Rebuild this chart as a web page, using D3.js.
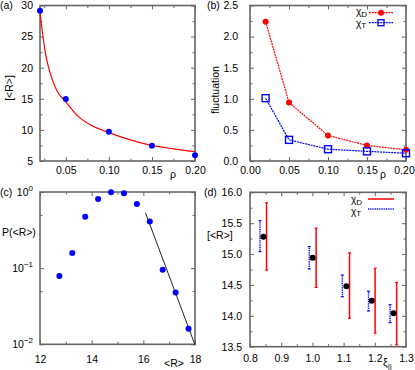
<!DOCTYPE html>
<html lang="en">
<head>
<meta charset="utf-8">
<title>Four panels</title>
<style>
  body { margin: 0; background: #fff; }
  text { font-family: "Liberation Sans", Arial, sans-serif; font-size: 10.5px; fill: #000; }
  .frame { fill: none; stroke: #666; stroke-width: 1.6; }
  .tick line { stroke: #666; }
  .domain { display: none; }
  .leg { font-size: 10px; }
</style>
</head>
<body>
<script src="https://cdn.jsdelivr.net/npm/d3@7"></script>
<script>
// (a) mean radius vs density, with fit curve
var rhoA = [0.02, 0.05, 0.10, 0.15, 0.20];
var rA = [29.17, 14.97, 9.72, 7.47, 5.91];
var fitRho = [0.02, 0.023, 0.026, 0.03, 0.035, 0.04, 0.05, 0.065, 0.08, 0.10, 0.125, 0.15, 0.175, 0.20];
var fitR = [29.0, 25.5, 22.6, 20.0, 17.8, 16.2, 14.5, 12.1, 10.7, 9.56, 8.4, 7.5, 6.95, 6.5];

// (b) fluctuations
var rhoB = [0.02, 0.05, 0.10, 0.15, 0.20];
var chiD = [2.24, 0.94, 0.41, 0.25, 0.18];
var chiT = [1.01, 0.34, 0.19, 0.155, 0.125];

// (c) distribution of <R>
var rC = [12.75, 13.25, 13.75, 14.25, 14.75, 15.25, 15.75, 16.25, 16.75, 17.25, 17.75];
var pC = [0.079, 0.158, 0.474, 0.81, 0.99, 0.96, 0.695, 0.41, 0.095, 0.048, 0.016];
var tailX = [16.08, 18.0];
var tailY = [0.535, 0.0098];

// (d) [<R>] vs xi with error bars
var xiM = [0.843, 1.001, 1.109, 1.19, 1.26];
var rM = [15.28, 14.94, 14.48, 14.245, 14.04];
var xiT = [0.832, 0.99, 1.096, 1.18, 1.249];
var tLo = [15.04, 14.76, 14.31, 14.08, 13.89];
var tHi = [15.54, 15.12, 14.66, 14.40, 14.18];
var xiD = [0.853, 1.012, 1.119, 1.201, 1.27];
var dLo = [14.74, 14.46, 13.96, 13.72, 13.53];
var dHi = [15.83, 15.42, 15.02, 14.77, 14.54];

var red = "#ff0000", blue = "#0000ff";

var svg = d3.select("body").append("svg")
    .attr("width", 415)
    .attr("height", 370);

// draws frame, inward ticks on all four sides and labels on bottom/left
function panel(p) {
    var g = svg.append("g");
    var x = p.x, y = p.y;
    var L = x.range()[0], R = x.range()[1], T = y.range()[1], B = y.range()[0];

    function side(axisFn, scale, vals, size, pos, labels, pad, fmt) {
        var ax = axisFn(scale).tickValues(vals).tickSizeInner(-size).tickSizeOuter(0)
            .tickPadding(pad || 0)
            .tickFormat(labels ? fmt : "");
        return g.append("g").attr("transform", pos).call(ax);
    }
    var minorX = p.xMinor || [], minorY = p.yMinor || [];
    // bottom
    var xb = side(d3.axisBottom, x, p.xTicks, 4, "translate(0," + B + ")", true, p.xPad, p.xFmt);
    side(d3.axisBottom, x, minorX, 2.5, "translate(0," + B + ")", false);
    // top
    side(d3.axisTop, x, p.xTicks, 4, "translate(0," + T + ")", false);
    side(d3.axisTop, x, minorX, 2.5, "translate(0," + T + ")", false);
    // left
    var yl = side(d3.axisLeft, y, p.yTicks, 4, "translate(" + L + ",0)", true, p.yPad, p.yFmt);
    side(d3.axisLeft, y, minorY, 2.5, "translate(" + L + ",0)", false);
    // right
    side(d3.axisRight, y, p.yTicks, 4, "translate(" + R + ",0)", false);
    side(d3.axisRight, y, minorY, 2.5, "translate(" + R + ",0)", false);

    g.selectAll("g").attr("font-size", null).attr("font-family", null);

    g.append("rect").attr("class", "frame")
        .attr("x", L).attr("y", T).attr("width", R - L).attr("height", B - T);
    return {g: g, xb: xb, yl: yl};
}

function sub(sel, main, s, dy) {
    sel.text(main);
    sel.append("tspan").attr("dy", dy || 3).attr("font-size", "8px").text(s);
}

// ---------- (a) ----------
var xa = d3.scaleLinear().domain([0.02, 0.20]).range([40, 195]);
var ya = d3.scaleLinear().domain([5, 30]).range([161, 5.5]);
var pa = panel({
    x: xa, y: ya,
    xTicks: [0.05, 0.10, 0.15, 0.20], xMinor: [0.025, 0.075, 0.125, 0.175],
    yTicks: [5, 10, 15, 20, 25, 30], yMinor: [7.5, 12.5, 17.5, 22.5, 27.5],
    xPad: 6, yPad: 7,
    xFmt: d3.format(".2f"), yFmt: d3.format("d")
});
pa.g.append("path")
    .datum(fitRho.map(function(d, i) { return [d, fitR[i]]; }))
    .attr("fill", "none").attr("stroke", red).attr("stroke-width", 1.2)
    .attr("d", d3.line().curve(d3.curveMonotoneX)
        .x(function(d) { return xa(d[0]); }).y(function(d) { return ya(d[1]); }));
pa.g.selectAll(".pt").data(rhoA).enter().append("circle")
    .attr("cx", function(d) { return xa(d); })
    .attr("cy", function(d, i) { return ya(rA[i]); })
    .attr("r", 3).attr("fill", blue);
svg.append("text").attr("x", 9).attr("y", 88).attr("text-anchor", "middle")
    .attr("dy", "0.35em").attr("transform", "rotate(-90,9,88)").text("[<R>]");
svg.append("text").attr("x", 173).attr("y", 178).attr("text-anchor", "middle").text("ρ");
svg.append("text").attr("x", 0).attr("y", 9).attr("font-size", "9.5px").text("(a)");

// ---------- (b) ----------
var xbS = d3.scaleLinear().domain([0, 0.20]).range([250, 406]);
var ybS = d3.scaleLinear().domain([0, 2.5]).range([161, 5.5]);
var pb = panel({
    x: xbS, y: ybS,
    xTicks: [0, 0.05, 0.10, 0.15, 0.20], xMinor: [0.025, 0.075, 0.125, 0.175],
    yTicks: [0, 0.5, 1, 1.5, 2, 2.5], yMinor: [0.25, 0.75, 1.25, 1.75, 2.25],
    xPad: 6, yPad: 12,
    xFmt: d3.format(".2f"), yFmt: d3.format(".1f")
});
// keep the last label inside the picture, as in the reference
pb.xb.selectAll(".tick text").filter(function(d) { return d === 0.20; }).attr("dx", -2);
var lineB = d3.line().x(function(d) { return xbS(d[0]); }).y(function(d) { return ybS(d[1]); });
pb.g.append("path").datum(rhoB.map(function(d, i) { return [d, chiD[i]]; }))
    .attr("fill", "none").attr("stroke", red).attr("stroke-width", 1.2)
    .attr("stroke-dasharray", "2,0.8").attr("d", lineB);
pb.g.append("path").datum(rhoB.map(function(d, i) { return [d, chiT[i]]; }))
    .attr("fill", "none").attr("stroke", blue).attr("stroke-width", 1.2)
    .attr("stroke-dasharray", "2,0.8").attr("d", lineB);
pb.g.selectAll(".pd").data(rhoB).enter().append("circle")
    .attr("cx", function(d) { return xbS(d); })
    .attr("cy", function(d, i) { return ybS(chiD[i]); })
    .attr("r", 3).attr("fill", red);
pb.g.selectAll(".pt").data(rhoB).enter().append("rect")
    .attr("x", function(d) { return xbS(d) - 3.5; })
    .attr("y", function(d, i) { return ybS(chiT[i]) - 3.5; })
    .attr("width", 7).attr("height", 7)
    .attr("fill", "none").attr("stroke", blue).attr("stroke-width", 1.4);
// legend
sub(svg.append("text").attr("class", "leg").attr("x", 356).attr("y", 15), "χ", "D", 1.5);
sub(svg.append("text").attr("class", "leg").attr("x", 356).attr("y", 26.5), "χ", "T", 1.5);
svg.append("line").attr("x1", 369).attr("x2", 393).attr("y1", 12.7).attr("y2", 12.7)
    .attr("stroke", red).attr("stroke-width", 1.2).attr("stroke-dasharray", "2,0.8");
svg.append("circle").attr("cx", 381).attr("cy", 12.7).attr("r", 3).attr("fill", red);
svg.append("line").attr("x1", 369).attr("x2", 393).attr("y1", 22.7).attr("y2", 22.7)
    .attr("stroke", blue).attr("stroke-width", 1.2).attr("stroke-dasharray", "2,0.8");
svg.append("rect").attr("x", 378).attr("y", 19.7).attr("width", 6).attr("height", 6)
    .attr("fill", "none").attr("stroke", blue).attr("stroke-width", 1.3);
svg.append("text").attr("x", 215).attr("y", 90).attr("text-anchor", "middle")
    .attr("dy", "0.35em").attr("transform", "rotate(-90,215,90)").text("fluctuation");
svg.append("text").attr("x", 383).attr("y", 178).attr("text-anchor", "middle").text("ρ");
svg.append("text").attr("x", 207).attr("y", 9).attr("font-size", "9.5px").text("(b)");

// ---------- (c) ----------
var xc = d3.scaleLinear().domain([12, 18]).range([40, 195]);
var yc = d3.scaleLog().domain([0.01, 1]).range([344.3, 192]);
var pc = panel({
    x: xc, y: yc,
    xTicks: [12, 14, 16, 18], xMinor: [13, 15, 17],
    yTicks: [0.01, 0.1, 1], yMinor: [0.05, 0.5],
    xPad: 11, yPad: 7,
    xFmt: d3.format("d"), yFmt: function(d) { return "10"; }
});
pc.yl.selectAll(".tick text").each(function(d) {
    d3.select(this).append("tspan").attr("dy", -5).attr("font-size", "8px")
        .text(String(Math.round(Math.log10(d))).replace("-", "−"));
});
pc.g.append("path").datum(tailX.map(function(d, i) { return [d, tailY[i]]; }))
    .attr("fill", "none").attr("stroke", "#222").attr("stroke-width", 1)
    .attr("d", d3.line().x(function(d) { return xc(d[0]); }).y(function(d) { return yc(d[1]); }));
pc.g.selectAll(".pt").data(rC).enter().append("circle")
    .attr("cx", function(d) { return xc(d); })
    .attr("cy", function(d, i) { return yc(pC[i]); })
    .attr("r", 3).attr("fill", blue);
svg.append("text").attr("x", 2).attr("y", 235.5).text("P(<R>)");
svg.append("text").attr("x", 174).attr("y", 367).attr("text-anchor", "middle").text("<R>");
svg.append("text").attr("x", 0).attr("y", 196).attr("font-size", "9.5px").text("(c)");

// ---------- (d) ----------
var xd = d3.scaleLinear().domain([0.8, 1.3]).range([250, 406]);
var yd = d3.scaleLinear().domain([13.5, 16]).range([346.7, 192.3]);
var pd = panel({
    x: xd, y: yd,
    xTicks: [0.8, 0.9, 1.0, 1.1, 1.2, 1.3], xMinor: [0.85, 0.95, 1.05, 1.15, 1.25],
    yTicks: [13.5, 14, 14.5, 15, 15.5, 16], yMinor: [13.75, 14.25, 14.75, 15.25, 15.75],
    xPad: 8, yPad: 8,
    xFmt: d3.format(".1f"), yFmt: d3.format(".1f")
});
function bars(xs, lo, hi, color, dash) {
    var gb = pd.g.append("g").attr("stroke", color).attr("stroke-width", 1.5);
    if (dash) gb.attr("stroke-dasharray", dash);
    xs.forEach(function(xv, i) {
        gb.append("line").attr("x1", xd(xv)).attr("x2", xd(xv))
            .attr("y1", yd(lo[i])).attr("y2", yd(hi[i]));
        [lo[i], hi[i]].forEach(function(v) {
            pd.g.append("line").attr("x1", xd(xv) - 1.5).attr("x2", xd(xv) + 1.5)
                .attr("y1", yd(v)).attr("y2", yd(v)).attr("stroke", color).attr("stroke-width", 1.2);
        });
    });
}
bars(xiT, tLo, tHi, blue, "1,0.8");
bars(xiD, dLo, dHi, red, null);
pd.g.selectAll(".pt").data(xiM).enter().append("circle")
    .attr("cx", function(d) { return xd(d); })
    .attr("cy", function(d, i) { return yd(rM[i]); })
    .attr("r", 3).attr("fill", "#000");
sub(svg.append("text").attr("class", "leg").attr("x", 351).attr("y", 203), "χ", "D", 1.5);
sub(svg.append("text").attr("class", "leg").attr("x", 351).attr("y", 214.5), "χ", "T", 1.5);
svg.append("line").attr("x1", 368).attr("x2", 394).attr("y1", 199).attr("y2", 199)
    .attr("stroke", red).attr("stroke-width", 1.5);
svg.append("line").attr("x1", 368).attr("x2", 394).attr("y1", 209).attr("y2", 209)
    .attr("stroke", blue).attr("stroke-width", 1.5).attr("stroke-dasharray", "1,0.8");
svg.append("text").attr("x", 207).attr("y", 239).text("[<R>]");
sub(svg.append("text").attr("x", 383).attr("y", 366), "ξ", "||", 3);
svg.append("text").attr("x", 204).attr("y", 196).attr("font-size", "9.5px").text("(d)");
</script>
</body>
</html>
